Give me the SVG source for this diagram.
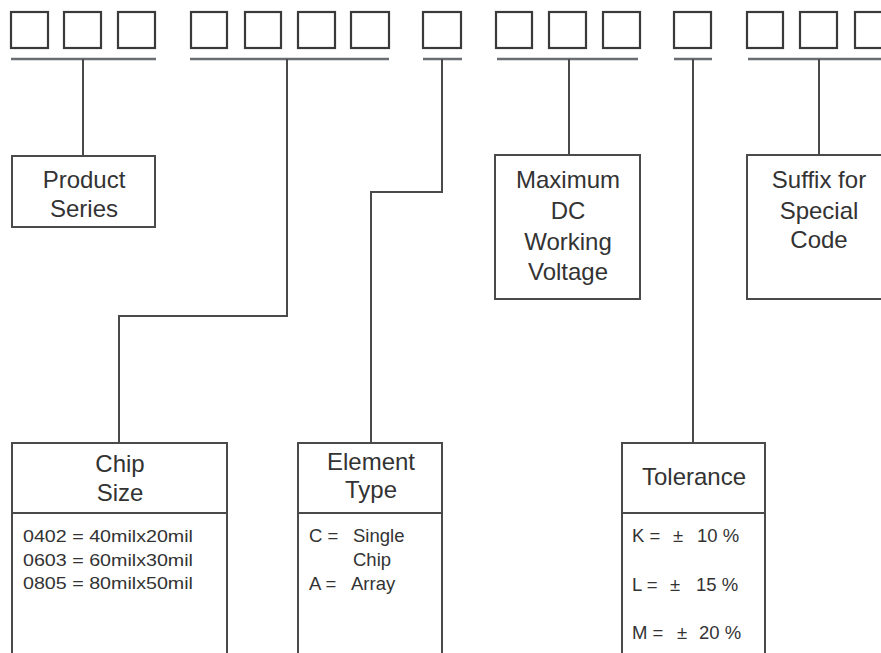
<svg xmlns="http://www.w3.org/2000/svg" width="881" height="653" viewBox="0 0 881 653">
<style>
.sq{fill:#fff;stroke:#3a3a3a;stroke-width:2.2}
.bx{fill:#fff;stroke:#4a4a4a;stroke-width:2}
.ln{fill:none;stroke:#4a4a4a;stroke-width:2}
.ul{fill:none;stroke:#6a6e72;stroke-width:2.5}
.t{font-family:"Liberation Sans",Arial,sans-serif;font-size:24px;fill:#333;text-anchor:middle}
.b{font-family:"Liberation Sans",Arial,sans-serif;font-size:17px;fill:#333}
.c{font-family:"Liberation Sans",Arial,sans-serif;font-size:18.5px;fill:#333}
</style>
<rect width="881" height="653" fill="#fff"/>
<g id="code-boxes">
<rect class="sq" x="11" y="12" width="37" height="36"/>
<rect class="sq" x="64" y="12" width="37" height="36"/>
<rect class="sq" x="118" y="12" width="37" height="36"/>
<rect class="sq" x="191" y="12" width="36" height="36"/>
<rect class="sq" x="245" y="12" width="36" height="36"/>
<rect class="sq" x="298" y="12" width="37" height="36"/>
<rect class="sq" x="351" y="12" width="38" height="36"/>
<rect class="sq" x="423" y="12" width="38" height="36"/>
<rect class="sq" x="496" y="12" width="36" height="36"/>
<rect class="sq" x="549" y="12" width="37" height="36"/>
<rect class="sq" x="603" y="12" width="37" height="36"/>
<rect class="sq" x="674" y="12" width="37" height="36"/>
<rect class="sq" x="747" y="12" width="36" height="36"/>
<rect class="sq" x="800" y="12" width="37" height="36"/>
<rect class="sq" x="855" y="12" width="37" height="36"/>
</g>
<g id="connectors">
<line class="ul" x1="11" y1="59" x2="156" y2="59"/>
<line class="ul" x1="190" y1="59" x2="389" y2="59"/>
<line class="ul" x1="423" y1="59" x2="462" y2="59"/>
<line class="ul" x1="497" y1="59" x2="638" y2="59"/>
<line class="ul" x1="674" y1="59" x2="712" y2="59"/>
<line class="ul" x1="748" y1="59" x2="881" y2="59"/>
<polyline class="ln" points="83,59 83,156"/>
<polyline class="ln" points="287,59 287,316 119,316 119,443"/>
<polyline class="ln" points="442,59 442,192 371,192 371,443"/>
<polyline class="ln" points="569,59 569,155"/>
<polyline class="ln" points="693,59 693,443"/>
<polyline class="ln" points="819,59 819,155"/>
</g>
<g id="product-series">
<rect class="bx" x="12" y="156" width="143" height="71"/>
<text class="t" x="84" y="188">Product</text>
<text class="t" x="84" y="217">Series</text>
</g>
<g id="max-dc-voltage">
<rect class="bx" x="495" y="155" width="145" height="144"/>
<text class="t" x="568" y="188">Maximum</text>
<text class="t" x="568" y="219">DC</text>
<text class="t" x="568" y="250">Working</text>
<text class="t" x="568" y="280">Voltage</text>
</g>
<g id="suffix">
<rect class="bx" x="747" y="155" width="145" height="144"/>
<text class="t" x="819" y="188">Suffix for</text>
<text class="t" x="819" y="219">Special</text>
<text class="t" x="819" y="248">Code</text>
</g>
<g id="chip-size">
<rect class="bx" x="12" y="443" width="215" height="220"/>
<line class="ln" x1="12" y1="513" x2="227" y2="513"/>
<text class="t" x="120" y="472">Chip</text>
<text class="t" x="120" y="501">Size</text>
<text class="b" x="23" y="542" textLength="170" lengthAdjust="spacingAndGlyphs">0402 = 40milx20mil</text>
<text class="b" x="23" y="566" textLength="170" lengthAdjust="spacingAndGlyphs">0603 = 60milx30mil</text>
<text class="b" x="23" y="589" textLength="170" lengthAdjust="spacingAndGlyphs">0805 = 80milx50mil</text>
</g>
<g id="element-type">
<rect class="bx" x="298" y="443" width="144" height="220"/>
<line class="ln" x1="298" y1="513" x2="442" y2="513"/>
<text class="t" x="371" y="470">Element</text>
<text class="t" x="371" y="498">Type</text>
<text class="c" x="309" y="542">C =</text>
<text class="c" x="353" y="542">Single</text>
<text class="c" x="353" y="566">Chip</text>
<text class="c" x="309" y="590">A =</text>
<text class="c" x="351" y="590">Array</text>
</g>
<g id="tolerance">
<rect class="bx" x="622" y="443" width="143" height="220"/>
<line class="ln" x1="622" y1="513" x2="765" y2="513"/>
<text class="t" x="694" y="485">Tolerance</text>
<text class="c" x="632" y="542">K =</text>
<text class="c" x="673" y="542">±</text>
<text class="c" x="697" y="542">10 %</text>
<text class="c" x="632" y="591">L =</text>
<text class="c" x="670" y="591">±</text>
<text class="c" x="696" y="591">15 %</text>
<text class="c" x="632" y="639">M =</text>
<text class="c" x="677" y="639">±</text>
<text class="c" x="699" y="639">20 %</text>
</g>
</svg>
